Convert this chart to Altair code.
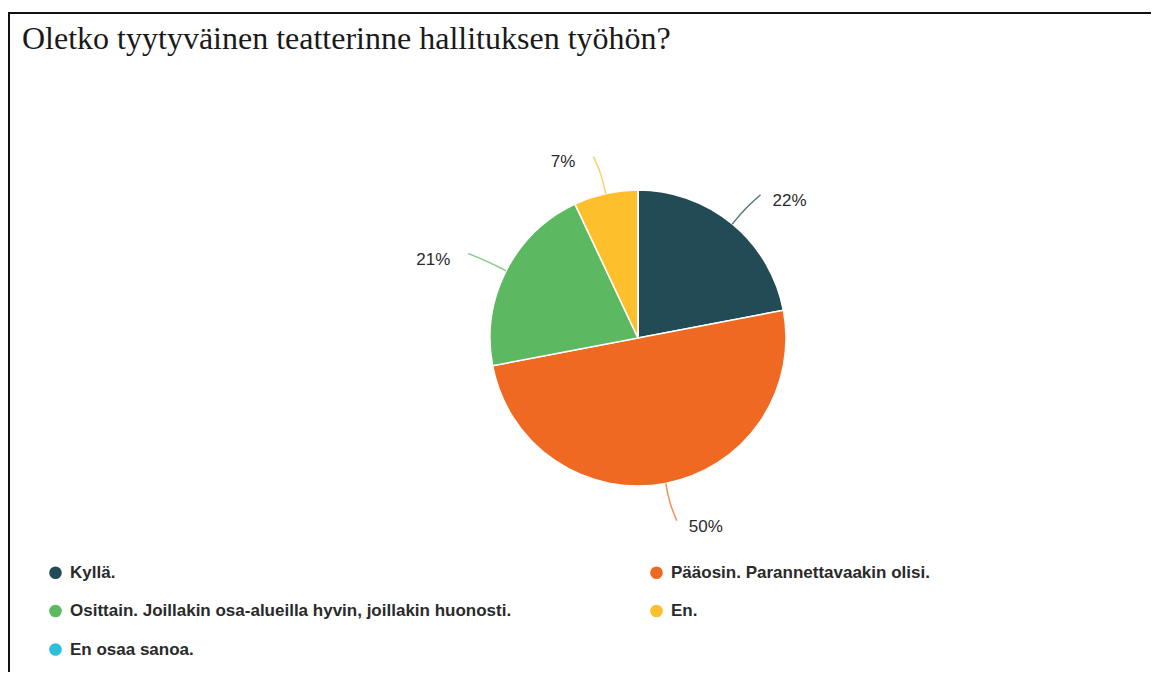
import math
import altair as alt
import pandas as pd

# ---- data ----
categories = [
    "Kyllä.",
    "Pääosin. Parannettavaakin olisi.",
    "Osittain. Joillakin osa-alueilla hyvin, joillakin huonosti.",
    "En.",
    "En osaa sanoa.",
]
values = [22, 50, 21, 7, 0]
colors = ["#234B56", "#F06922", "#5CB962", "#FDBF2C", "#2EC0D8"]
title_text = "Oletko tyytyväinen teatterinne hallituksen työhön?"

# ---- layout constants ----
W, H = 1143, 664
CX, CY, R = 630, 330, 148

df = pd.DataFrame({"cat": categories, "value": values, "idx": list(range(len(values)))})

# label + leader line geometry derived from the values
total = sum(values)
lab_rows, line_rows = [], []
cum = 0
for i, (c, v) in enumerate(zip(categories, values)):
    mid = (cum + v / 2) / total * 2 * math.pi
    cum += v
    if v == 0:
        continue
    ux, uy = math.sin(mid), -math.cos(mid)
    sign = 1 if ux >= 0 else -1
    p0 = (CX + 148 * ux, CY + 148 * uy)
    p1 = (CX + 168 * ux, CY + 168 * uy)
    p2 = (CX + 186 * ux + sign * 4, CY + 186 * uy)
    for k, p in enumerate([p0, p1, p2]):
        line_rows.append({"cat": c, "k": k, "x": p[0], "y": p[1]})
    gap = 12 if sign > 0 else 18
    lab_rows.append({"cat": c, "label": f"{v}%", "x": p2[0] + sign * gap,
                     "y": p2[1] + 6, "align": "left" if sign > 0 else "right"})
lines = pd.DataFrame(line_rows)
labs = pd.DataFrame(lab_rows)

xs = alt.Scale(domain=[0, W], range=[0, W], nice=False, zero=False)
ys = alt.Scale(domain=[0, H], range=[0, H], nice=False, zero=False)

# legend fills column by column: order the domain so rows read
# Kyllä | Pääosin, Osittain | En, En osaa sanoa
legend_order = [0, 2, 4, 1, 3]
color_scale = alt.Scale(domain=[categories[i] for i in legend_order],
                        range=[colors[i] for i in legend_order])

pie = alt.Chart(df).mark_arc(outerRadius=R, stroke="white", strokeWidth=1.5).encode(
    theta=alt.Theta("value:Q", stack=True),
    order=alt.Order("idx:Q"),
    color=alt.Color(
        "cat:N", scale=color_scale,
        legend=alt.Legend(
            title=None, orient="none", legendX=39, legendY=556, columns=2,
            symbolType="circle", symbolSize=160, symbolStrokeWidth=0,
            labelFont="Liberation Sans", labelFontWeight="bold", labelFontSize=17,
            labelColor="#2a2a2a", labelLimit=800, labelOffset=6,
            rowPadding=20.5, columnPadding=136, padding=0,
        ),
    ),
    x=alt.value(CX),
    y=alt.value(CY),
)

leader = alt.Chart(lines).mark_line(interpolate="basis", strokeWidth=1.5, opacity=0.75).encode(
    x=alt.X("x:Q", scale=xs, axis=None),
    y=alt.Y("y:Q", scale=ys, axis=None),
    detail="cat:N",
    order="k:Q",
    color=alt.Color("cat:N", scale=color_scale, legend=None),
)

labs_left = labs[labs["align"] == "left"]
labs_right = labs[labs["align"] == "right"]
txt_kw = dict(font="Liberation Sans", fontSize=17, color="#2a2a2a", baseline="middle")
lab_l = alt.Chart(labs_left).mark_text(align="left", **txt_kw).encode(
    x=alt.X("x:Q", scale=xs, axis=None), y=alt.Y("y:Q", scale=ys, axis=None), text="label:N")
lab_r = alt.Chart(labs_right).mark_text(align="right", **txt_kw).encode(
    x=alt.X("x:Q", scale=xs, axis=None), y=alt.Y("y:Q", scale=ys, axis=None), text="label:N")

one = pd.DataFrame({"t": [title_text]})
title = alt.Chart(one).mark_text(align="left", baseline="alphabetic", font="Liberation Serif",
                                 fontSize=32, color="#1a1a1a").encode(
    x=alt.value(14), y=alt.value(41), text="t:N")

top_rule = alt.Chart(one).mark_rule(color="#111111", strokeWidth=2).encode(
    x=alt.value(0), x2=alt.value(W), y=alt.value(5))
left_rule = alt.Chart(one).mark_rule(color="#111111", strokeWidth=2).encode(
    x=alt.value(1), y=alt.value(5), y2=alt.value(H))

chart = alt.layer(pie, leader, lab_l, lab_r, title, top_rule, left_rule).resolve_scale(
    color="shared"
).properties(
    width=W, height=H, padding=0, autosize=alt.AutoSizeParams(type="none")
).configure_view(stroke=None)

chart.save("out.html", embed_options={"renderer": "svg", "actions": False})
